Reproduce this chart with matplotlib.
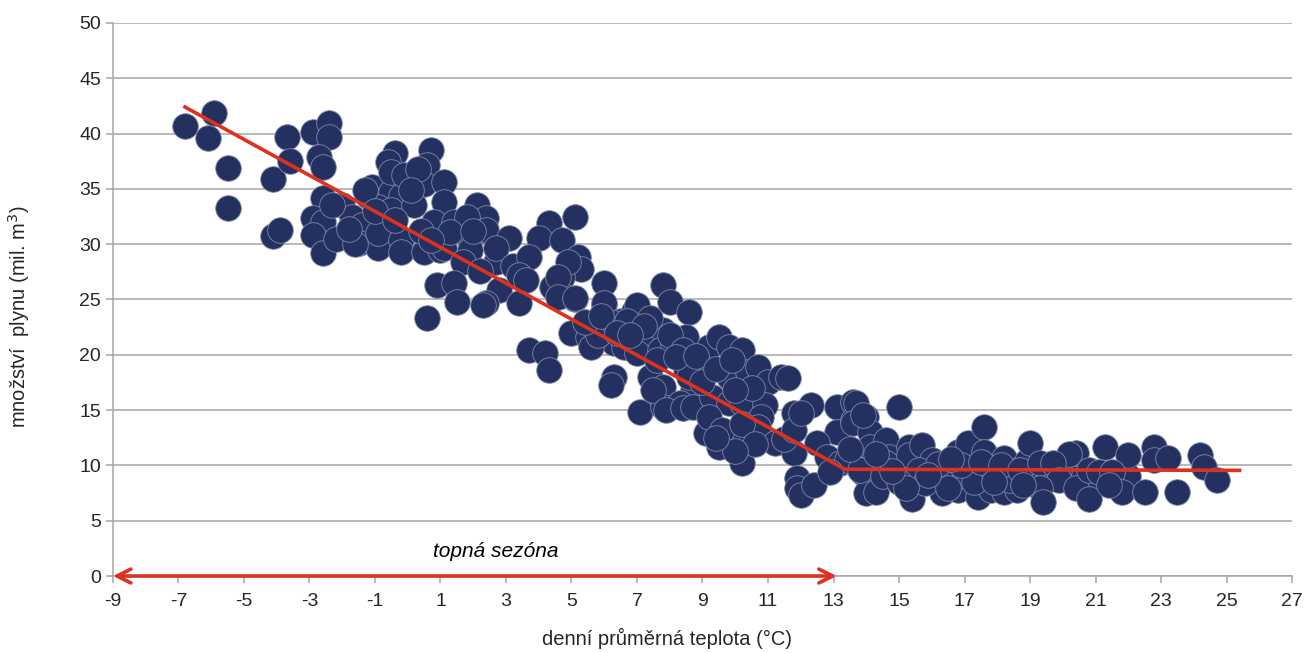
import matplotlib
matplotlib.use('Agg')
import matplotlib.pyplot as plt

plt.rcParams['font.family'] = ['Liberation Sans', 'DejaVu Sans']
plt.rcParams['axes.unicode_minus'] = False

# denní průměrná teplota (°C) / množství plynu (mil. m3)
teplota = [
    -6.8, -6.1, -5.9, -5.5, -5.5, -4.1, -4.1, -3.9, -3.7, -3.6, -2.9, -2.4, -2.4, -2.7, -2.6,
    -2.6, -2.9, -2.6, -2.9, -2.6, -2.2, -2.0, -1.7, -1.4, -1.5, -0.9, -0.9, -1.1, -1.2, -0.5,
    -0.2, -0.9, -0.5, -0.4, -0.6, -0.5, 0.7, 0.6, 0.5, 1.1, 0.2, 1.1, 2.1, 2.4, 0.8,
    1.4, 1.8, -0.2, -0.2, 0.5, 1.0, 1.1, 1.9, 1.9, 2.4, 2.7, 1.7, 3.1, 2.8, 2.4,
    0.9, 1.4, 1.5, 0.6, -1.6, -1.3, -1.0, -0.1, 0.3, 0.1, -0.4, 0.4, 1.3, 0.7, -1.8,
    -2.3, 2.0, 2.7, 3.2, 2.2,
    5.1, 4.3, 4.0, 4.7, 3.7, 5.2, 5.3, 3.4, 3.6, 4.7, 4.4, 4.7, 6.0, 7.8, 8.0,
    2.3, 3.4, 5.1, 5.0, 5.5, 5.9, 6.0, 6.5, 6.9, 7.4, 7.8, 8.1, 6.3, 6.7, 3.7,
    4.2, 4.3, 6.3, 6.2, 7.4, 7.6, 7.8, 7.1, 7.8, 4.9, 4.6, 4.6, 5.1, 6.0, 7.0,
    8.6, 5.6, 5.8, 6.3, 6.7, 6.6, 7.0, 7.7, 8.1, 8.5, 8.3, 7.5, 8.5, 8.7, 8.3,
    7.4, 8.0, 8.4, 9.2, 9.5, 9.8, 10.2, 8.9, 8.6, 9.8, 10.4, 10.7, 11.0, 11.4, 7.9,
    8.4, 8.7, 9.3, 9.8, 10.2, 10.9, 10.8, 9.1, 9.5, 10.2, 10.2, 10.7, 11.2, 11.8, 12.3,
    11.8, 13.1, 13.1, 13.6, 13.6, 12.5, 12.8, 13.2, 11.9, 11.9, 12.0, 12.4, 11.6,
    5.4, 5.9, 6.4, 7.2, 6.8, 7.6, 8.2, 8.8, 9.0, 9.4, 9.9, 10.5, 10.0, 9.2, 9.6,
    10.2, 10.6, 10.0, 9.4, 11.5, 11.8,
    13.7, 14.0, 13.6, 14.1, 14.1, 14.6, 14.7, 15.0, 13.4, 13.9, 14.0, 14.3, 15.3, 15.4, 15.4,
    13.9, 12.0, 12.9, 13.8, 14.6, 15.3, 15.7, 16.0, 15.6, 16.3, 16.3, 16.8, 17.1, 17.1, 17.6,
    17.6, 16.8, 17.4, 17.7, 18.2, 18.6, 17.8, 18.2, 18.6,
    14.5, 15.0, 15.8, 16.5, 17.0, 17.3, 17.9, 18.4, 18.9, 19.6, 20.0, 20.6, 21.0, 22.0, 16.2,
    16.9, 17.5, 18.1, 18.9, 15.2, 16.5, 17.9, 14.8, 13.5, 14.3, 15.9, 16.6, 19.9,
    19.0, 20.4, 20.2, 21.3, 22.0, 22.8, 22.8, 23.2, 24.2, 24.3, 24.7, 18.7, 19.3, 19.7, 19.9,
    19.3, 19.4, 18.8, 20.4, 20.8, 20.8, 21.1, 21.5, 21.8, 21.4, 22.5, 23.5,
]
plyn = [
    40.7, 39.6, 41.9, 36.9, 33.3, 35.9, 30.7, 31.3, 39.7, 37.5, 40.1, 41.0, 39.7, 37.9, 37.0,
    34.2, 32.4, 32.0, 30.8, 29.2, 30.5, 33.5, 32.5, 31.7, 30.1, 29.7, 31.0, 35.2, 34.4, 34.7,
    34.4, 33.4, 33.1, 38.2, 37.4, 36.5, 38.5, 37.2, 35.4, 35.6, 33.5, 33.8, 33.5, 32.4, 32.0,
    32.0, 32.5, 30.4, 29.3, 29.3, 29.5, 29.7, 30.4, 29.5, 31.3, 28.4, 28.4, 30.6, 25.9, 24.7,
    26.3, 26.5, 24.8, 23.3, 30.0, 34.9, 33.0, 36.3, 36.8, 34.9, 32.2, 31.2, 31.1, 30.4, 31.4,
    33.5, 31.2, 29.7, 28.0, 27.6,
    32.5, 31.9, 30.6, 30.4, 28.8, 28.8, 27.8, 27.2, 26.8, 27.0, 26.1, 25.4, 26.5, 26.3, 24.8,
    24.5, 24.7, 25.0, 22.0, 21.6, 22.5, 24.5, 23.1, 24.0, 21.6, 22.2, 21.6, 21.1, 20.7, 20.4,
    20.2, 18.6, 18.0, 17.3, 18.0, 16.5, 17.1, 14.8, 15.3, 28.4, 27.0, 25.2, 25.1, 24.7, 24.5,
    23.9, 20.7, 21.8, 22.9, 23.1, 20.7, 20.2, 20.4, 20.7, 21.6, 20.4, 16.8, 18.6, 16.8, 15.6,
    23.3, 21.8, 20.4, 20.7, 21.6, 20.7, 20.4, 19.1, 18.0, 18.0, 18.4, 18.9, 17.5, 18.0, 15.0,
    15.2, 15.3, 16.2, 15.6, 15.6, 15.5, 14.4, 12.9, 11.7, 12.3, 10.2, 13.5, 12.0, 14.7, 15.5,
    11.1, 15.3, 13.0, 15.7, 14.1, 12.0, 10.8, 10.2, 8.9, 8.0, 7.3, 8.2, 17.9,
    23.0, 23.5, 22.0, 22.6, 21.8, 19.5, 19.8, 19.9, 17.5, 18.7, 19.5, 17.0, 16.8, 14.4, 13.2,
    13.7, 11.9, 11.3, 12.5, 12.4, 13.2,
    15.6, 14.4, 13.8, 13.0, 11.7, 12.3, 10.8, 15.3, 10.5, 9.3, 7.5, 7.6, 11.7, 9.6, 7.0,
    14.6, 14.7, 9.4, 9.6, 10.2, 10.9, 11.8, 10.5, 9.6, 9.0, 7.5, 11.2, 10.5, 12.0, 13.5,
    11.2, 7.8, 7.1, 9.6, 10.7, 9.6, 7.8, 7.6, 7.8,
    9.0, 8.5, 8.4, 9.4, 9.0, 8.5, 9.2, 8.7, 9.2, 9.4, 9.2, 9.2, 8.6, 9.0, 10.1,
    10.0, 10.3, 10.0, 10.4, 8.0, 8.0, 8.5, 9.5, 11.5, 11.0, 9.1, 10.6, 9.6,
    12.0, 11.1, 11.0, 11.7, 10.9, 11.7, 10.5, 10.7, 10.9, 9.9, 8.7, 9.6, 10.2, 10.2, 8.7,
    8.0, 6.7, 8.2, 8.0, 9.6, 7.0, 9.4, 9.4, 7.6, 8.2, 7.6, 7.6,
]

# lomena regresni primka
trend_x = [-6.8, 13.35, 25.4]
trend_y = [42.4, 9.65, 9.55]

sezona_od = -9
sezona_do = 13.1

x_ticks = list(range(-9, 28, 2))
y_ticks = list(range(0, 51, 5))

seda = '#A6A6A6'
text_barva = '#262626'

fig = plt.figure(figsize=(13.06, 6.53), dpi=100)
ax = fig.add_axes([0.0865, 0.1179, 0.9028, 0.8469])

ax.scatter(teplota, plyn, s=340, c='#243160', edgecolors='#7F89AA',
           linewidths=0.6, zorder=3)
ax.plot(trend_x, trend_y, color='#E0301E', lw=2.6, zorder=4)

ax.annotate('', xy=(sezona_do, 0), xytext=(sezona_od, 0),
            arrowprops=dict(arrowstyle='<->,head_length=1.0,head_width=0.5',
                            color='#E0301E', lw=2.6, shrinkA=0, shrinkB=0),
            annotation_clip=False, zorder=5)
ax.text(2.7, 1.4, 'topná sezóna', style='italic', ha='center', va='bottom',
        fontsize=15, color='#000000')

ax.set_xlim(-9, 27)
ax.set_ylim(0, 50)
ax.set_xticks(x_ticks)
ax.set_yticks(y_ticks)
ax.yaxis.grid(True, color=seda, lw=1.1, zorder=0)
ax.set_axisbelow(True)

for s in ['top', 'right']:
    ax.spines[s].set_visible(False)
for s in ['left', 'bottom']:
    ax.spines[s].set_color(seda)
    ax.spines[s].set_linewidth(1.1)

ax.tick_params(axis='both', direction='out', length=5, width=1.1, color=seda,
               labelsize=14, labelcolor=text_barva)
ax.tick_params(axis='x', pad=7)

ax.set_xlabel('denní průměrná teplota (°C)', fontsize=14.5, color=text_barva)
ax.set_ylabel('množství  plynu (mil. m$^3$)', fontsize=14.5, color=text_barva)
ax.xaxis.set_label_coords(0.47, -0.093)
ax.yaxis.set_label_coords(-0.069, 0.47)

fig.savefig('out.png', dpi=100)
plt.close()
